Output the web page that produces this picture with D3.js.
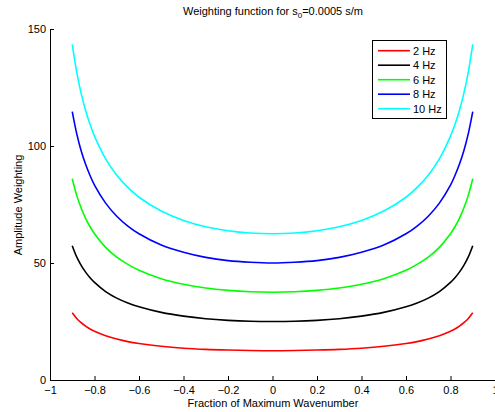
<!DOCTYPE html>
<html>
<head>
<meta charset="utf-8">
<script src="https://cdn.jsdelivr.net/npm/d3@7"></script>
<style>
  body { margin: 0; background: #fff; }
  svg { display: block; font-family: "Liberation Sans", Arial, sans-serif; }
</style>
</head>
<body>
<svg width="495" height="412"></svg>
<script>
// sample points along the wavenumber axis
const fractions = [-0.9, -0.88, -0.86, -0.84, -0.82, -0.8, -0.75, -0.7, -0.65, -0.6, -0.5, -0.4, -0.3, -0.2, -0.1, 0,
                   0.1, 0.2, 0.3, 0.4, 0.5, 0.6, 0.65, 0.7, 0.75, 0.8, 0.82, 0.84, 0.86, 0.88, 0.9];

// amplitude, one list per frequency
const hz2  = [28.7, 26.3, 24.5, 23.0, 21.8, 20.8, 18.9, 17.5, 16.4, 15.6, 14.4, 13.6, 13.1, 12.8, 12.6, 12.5,
              12.6, 12.8, 13.1, 13.6, 14.4, 15.6, 16.4, 17.5, 18.9, 20.8, 21.8, 23.0, 24.5, 26.3, 28.7];
const hz4  = [57.4, 52.6, 49.0, 46.1, 43.7, 41.7, 37.8, 35.0, 32.9, 31.3, 28.9, 27.3, 26.2, 25.5, 25.1, 25.0,
              25.1, 25.5, 26.2, 27.3, 28.9, 31.3, 32.9, 35.0, 37.8, 41.7, 43.7, 46.1, 49.0, 52.6, 57.4];
const hz6  = [86.0, 78.9, 73.5, 69.1, 65.5, 62.5, 56.7, 52.5, 49.4, 46.9, 43.3, 40.9, 39.3, 38.3, 37.7, 37.5,
              37.7, 38.3, 39.3, 40.9, 43.3, 46.9, 49.4, 52.5, 56.7, 62.5, 65.5, 69.1, 73.5, 78.9, 86.0];
const hz8  = [114.7, 105.3, 98.0, 92.2, 87.4, 83.3, 75.6, 70.0, 65.8, 62.5, 57.7, 54.6, 52.4, 51.0, 50.3, 50.0,
              50.3, 51.0, 52.4, 54.6, 57.7, 62.5, 65.8, 70.0, 75.6, 83.3, 87.4, 92.2, 98.0, 105.3, 114.7];
const hz10 = [143.4, 131.6, 122.5, 115.2, 109.2, 104.2, 94.5, 87.5, 82.3, 78.1, 72.2, 68.2, 65.5, 63.8, 62.8, 62.5,
              62.8, 63.8, 65.5, 68.2, 72.2, 78.1, 82.3, 87.5, 94.5, 104.2, 109.2, 115.2, 122.5, 131.6, 143.4];

const seriesNames = ['2 Hz', '4 Hz', '6 Hz', '8 Hz', '10 Hz'];
const seriesColors = ['#ff0000', '#000000', '#00ff00', '#0000ff', '#00ffff'];
const allSeries = [hz2, hz4, hz6, hz8, hz10];

const xTicks = [-1, -0.8, -0.6, -0.4, -0.2, 0, 0.2, 0.4, 0.6, 0.8, 1];
const xTickLabels = ['\u22121', '\u22120.8', '\u22120.6', '\u22120.4', '\u22120.2', '0', '0.2', '0.4', '0.6', '0.8', '1'];
const yTicks = [0, 50, 100, 150];

const svg = d3.select('svg');

const x = d3.scaleLinear().domain([-1, 1]).range([50, 495]);
const y = d3.scaleLinear().domain([0, 150]).range([380, 29]);

// curves
const line = d3.line()
  .x((d, i) => x(fractions[i]))
  .y(d => y(d))
  .curve(d3.curveCatmullRom);

allSeries.forEach((vals, k) => {
  svg.append('path')
    .attr('d', line(vals))
    .attr('fill', 'none')
    .attr('stroke', seriesColors[k])
    .attr('stroke-width', 1.6);
});

// axes, ticks pointing inward like matlab
const xAxis = svg.append('g')
  .attr('transform', 'translate(0,380)')
  .call(d3.axisBottom(x).tickValues(xTicks)
    .tickFormat((d, i) => xTickLabels[i])
    .tickSizeInner(-4).tickSizeOuter(0).tickPadding(6));

const yAxis = svg.append('g')
  .attr('transform', 'translate(50,0)')
  .call(d3.axisLeft(y).tickValues(yTicks)
    .tickSizeInner(-4).tickSizeOuter(0).tickPadding(4));

[xAxis, yAxis].forEach(g => {
  g.selectAll('text').attr('font-size', 11).attr('fill', '#000')
    .attr('font-family', '"Liberation Sans", Arial, sans-serif');
  g.select('.domain').attr('stroke', '#000');
  g.selectAll('.tick line').attr('stroke', '#000');
});

// title and labels
const title = svg.append('text')
  .attr('x', 273).attr('y', 15)
  .attr('text-anchor', 'middle')
  .attr('font-size', 11);
title.append('tspan').text('Weighting function for s');
title.append('tspan').attr('font-size', 8).attr('dy', 3).text('0');
title.append('tspan').attr('dy', -3).text('=0.0005 s/m');

svg.append('text')
  .attr('x', 273).attr('y', 407)
  .attr('text-anchor', 'middle')
  .attr('font-size', 11)
  .text('Fraction of Maximum Wavenumber');

svg.append('text')
  .attr('transform', 'translate(22,205) rotate(-90)')
  .attr('text-anchor', 'middle')
  .attr('font-size', 11)
  .text('Amplitude Weighting');

// legend
const legend = svg.append('g');
legend.append('rect')
  .attr('x', 372.5).attr('y', 40.5)
  .attr('width', 74).attr('height', 78)
  .attr('fill', '#fff').attr('stroke', '#000');

seriesNames.forEach((name, k) => {
  const ly = 50.7 + k * 14.5;
  legend.append('line')
    .attr('x1', 378).attr('x2', 410)
    .attr('y1', ly).attr('y2', ly)
    .attr('stroke', seriesColors[k]).attr('stroke-width', 1.6);
  legend.append('text')
    .attr('x', 413).attr('y', ly + 4)
    .attr('font-size', 11)
    .text(name);
});
</script>
</body>
</html>
